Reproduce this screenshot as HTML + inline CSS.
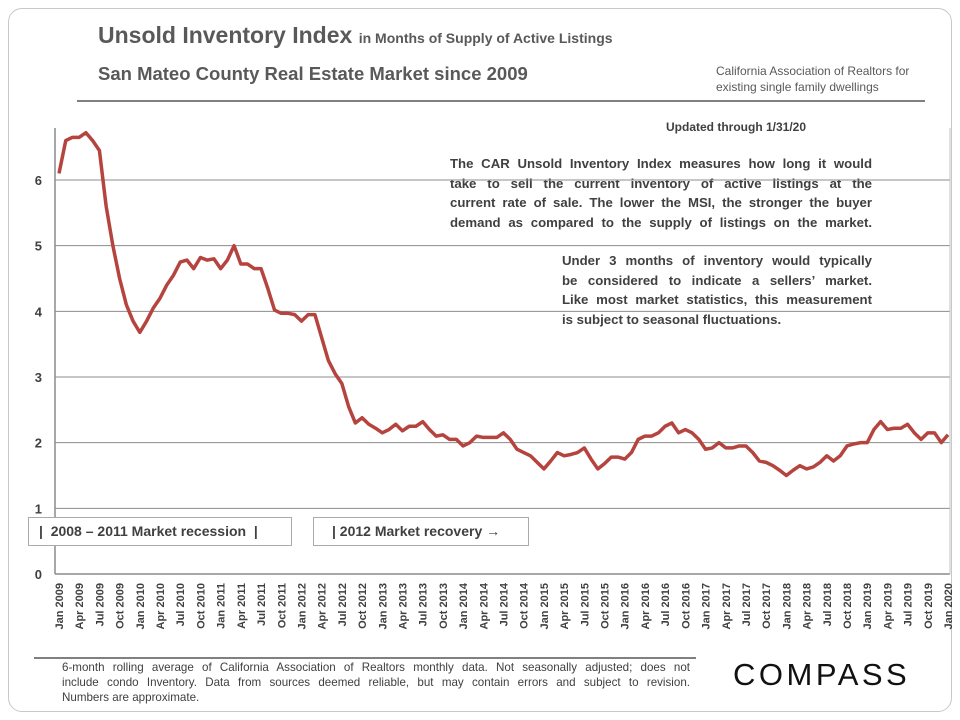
<!DOCTYPE html>
<html><head><meta charset="utf-8"><style>
body{margin:0;background:#fff;font-family:"Liberation Sans",sans-serif;}
#wrap{position:relative;width:960px;height:720px;overflow:hidden;}
.t{position:absolute;color:#404040;white-space:nowrap;}
.j div{text-align:justify;text-align-last:justify;}
.j div.l{text-align-last:left;}
</style></head><body>
<div id="wrap">
<div style="position:absolute;left:8px;top:8px;width:942px;height:702px;border:1px solid #c8c8c8;border-radius:14px;"></div>
<div class="t" style="left:98px;top:22px;font-size:23px;font-weight:bold;color:#595959">Unsold Inventory Index <span style="font-size:14px">in Months of Supply of Active Listings</span></div>
<div class="t" style="left:98px;top:63px;font-size:18.5px;font-weight:bold;color:#595959">San Mateo County Real Estate Market since 2009</div>
<div class="t" style="left:716px;top:63px;font-size:12px;line-height:16px;color:#595959">California Association of Realtors for<br>existing single family dwellings</div>
<div style="position:absolute;left:77px;top:100px;width:848px;height:2px;background:#808080"></div>
<div class="t" style="left:666px;top:120px;font-size:12px;font-weight:bold">Updated through 1/31/20</div>
<div class="t j" style="left:450px;top:154px;width:422px;font-size:13.2px;font-weight:bold;line-height:19.5px;background:#fff"><div>The CAR Unsold Inventory Index measures how long it would</div><div>take to sell the current inventory of active listings at the</div><div>current rate of sale. The lower the MSI, the stronger the buyer</div><div>demand as compared to the supply of listings on the market.</div></div>
<div class="t j" style="left:562px;top:251px;width:310px;font-size:13.2px;font-weight:bold;line-height:19.5px;background:#fff"><div>Under 3 months of inventory would typically</div><div>be considered to indicate a sellers’ market.</div><div>Like most market statistics, this measurement</div><div class="l">is subject to seasonal fluctuations.</div></div>
<svg id="chart" width="960" height="720" style="position:absolute;left:0;top:0"></svg>
<div class="t" style="left:28px;top:517px;width:262px;height:27px;border:1px solid #aaa;background:#fff;font-size:14px;font-weight:bold;line-height:27px;text-indent:10px">|&nbsp; 2008 – 2011 Market recession &nbsp;|</div>
<div class="t" style="left:313px;top:517px;width:214px;height:27px;border:1px solid #aaa;background:#fff;font-size:14px;font-weight:bold;line-height:27px;text-indent:18px">| 2012 Market recovery →</div>
<div style="position:absolute;left:34px;top:657px;width:662px;height:2px;background:#808080"></div>
<div class="t j" style="left:62px;top:660px;width:628px;font-size:11.6px;line-height:15px"><div>6-month rolling average of California Association of Realtors monthly data. Not seasonally adjusted; does not</div><div>include condo Inventory. Data from sources deemed reliable, but may contain errors and subject to revision.</div><div class="l">Numbers are approximate.</div></div>
<div class="t" style="left:733px;top:657px;font-size:31px;letter-spacing:3.5px;color:#111">COMPASS</div>
</div>
<script>
const yTicks=[0,1,2,3,4,5,6];
const values=[6.1,6.6,6.65,6.65,6.72,6.6,6.45,5.6,5.0,4.5,4.1,3.85,
3.68,3.85,4.05,4.2,4.4,4.55,4.75,4.78,4.65,4.82,4.78,4.8,
4.65,4.78,5.0,4.72,4.72,4.65,4.65,4.35,4.02,3.97,3.97,3.95,
3.85,3.95,3.95,3.6,3.25,3.05,2.9,2.55,2.3,2.38,2.28,2.22,
2.15,2.2,2.28,2.18,2.25,2.25,2.32,2.2,2.1,2.12,2.05,2.05,
1.95,2.0,2.1,2.08,2.08,2.08,2.15,2.05,1.9,1.85,1.8,1.7,
1.6,1.72,1.85,1.8,1.82,1.85,1.92,1.75,1.6,1.68,1.78,1.78,
1.75,1.85,2.05,2.1,2.1,2.15,2.25,2.3,2.15,2.2,2.15,2.05,
1.9,1.92,2.0,1.92,1.92,1.95,1.95,1.85,1.72,1.7,1.65,1.58,
1.5,1.58,1.65,1.6,1.63,1.7,1.8,1.72,1.8,1.95,1.98,2.0,
2.0,2.2,2.32,2.2,2.22,2.22,2.28,2.15,2.05,2.15,2.15,2.0,
2.12];
const monthNames=["Jan","Apr","Jul","Oct"];
const startYear=2009;
const NS="http://www.w3.org/2000/svg";
const svg=document.getElementById('chart');
const X0=59,X1=948,Y0=574,Y6=180;
const xs=i=>X0+(X1-X0)*i/(values.length-1);
const ys=v=>Y0-(Y0-Y6)*v/6;
function mk(t,a){const e=document.createElementNS(NS,t);for(const k in a)e.setAttribute(k,a[k]);svg.appendChild(e);return e;}
yTicks.forEach(v=>{
 if(v>0){const g=mk('line',{x1:55,x2:950,y1:ys(v),y2:ys(v),stroke:'#8c8c8c','stroke-width':1});
 
 }
 const t=mk('text',{x:42,y:ys(v)+5,'text-anchor':'end','font-size':13,'font-weight':'bold',fill:'#404040','font-family':'Liberation Sans'});
 t.textContent=v;
 
 
});
const ax=mk('line',{x1:55,x2:55,y1:128,y2:574,stroke:'#8c8c8c','stroke-width':1.5});


const bx=mk('line',{x1:55,x2:950,y1:574,y2:574,stroke:'#8c8c8c','stroke-width':1.5});


const rx=mk('line',{x1:950,x2:950,y1:128,y2:574,stroke:'#c0c0c0','stroke-width':1});


for(let i=0;i<values.length;i+=3){
 const lab=monthNames[(i/3)%4]+' '+(startYear+Math.floor(i/12));
 const x=xs(i)+4;
 const t=mk('text',{x:x,y:583,transform:`rotate(-90 ${x} 583)`,'text-anchor':'end','font-size':11,'font-weight':'bold',fill:'#404040','font-family':'Liberation Sans'});
 t.textContent=lab;
 
 
}
const p=mk('polyline',{points:values.map((v,i)=>xs(i)+','+ys(v)).join(' '),fill:'none',stroke:'#b5443f','stroke-width':3.5,'stroke-linejoin':'round'});


</script>
</body></html>
